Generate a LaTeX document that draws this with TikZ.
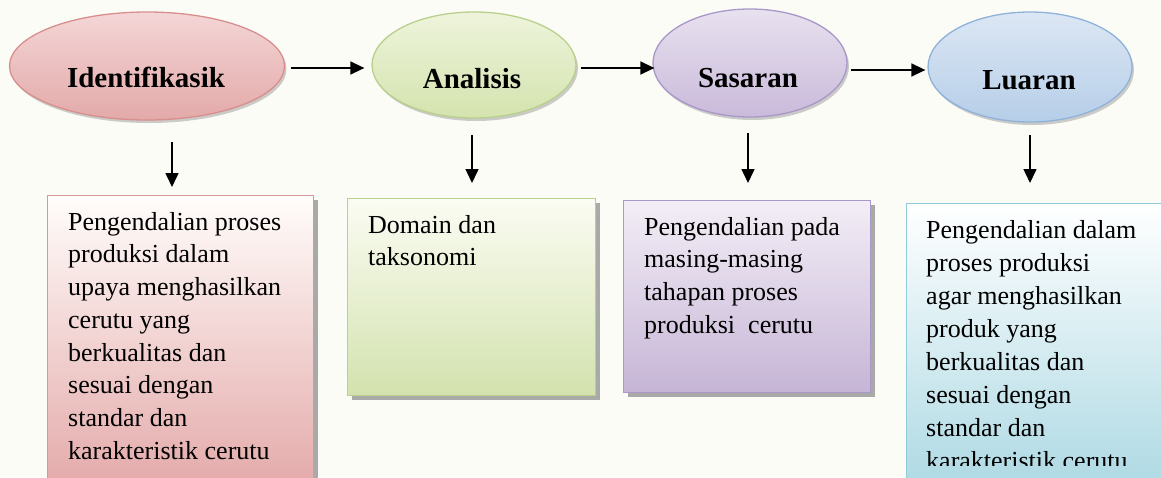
\documentclass[tikz,border=0pt]{standalone}
\usepackage{fontspec}
\setmainfont{Liberation Serif}
\usetikzlibrary{shapes.geometric,shadows,calc,arrows.meta}
\definecolor{bg}{HTML}{FCFCF7}
\definecolor{eAt}{HTML}{F4D6D6}\definecolor{eAb}{HTML}{E3A9A9}\definecolor{eAd}{HTML}{D98E8E}
\definecolor{eBt}{HTML}{EEF4DC}\definecolor{eBb}{HTML}{D4E3AE}\definecolor{eBd}{HTML}{B8D08C}
\definecolor{eCt}{HTML}{E8E1EF}\definecolor{eCb}{HTML}{C9BADA}\definecolor{eCd}{HTML}{A897C8}
\definecolor{eDt}{HTML}{DCE7F4}\definecolor{eDb}{HTML}{B6CEE8}\definecolor{eDd}{HTML}{8FB2DB}
\definecolor{bAt}{HTML}{FFFDFB}\definecolor{bAb}{HTML}{E3A7A7}\definecolor{bAd}{HTML}{DA9797}
\definecolor{bBt}{HTML}{FBFCF3}\definecolor{bBb}{HTML}{D3E2AE}\definecolor{bBd}{HTML}{B9D08E}
\definecolor{bCt}{HTML}{F3EEF6}\definecolor{bCb}{HTML}{C6B5D6}\definecolor{bCd}{HTML}{A998C9}
\definecolor{bDt}{HTML}{FFFFFF}\definecolor{bDb}{HTML}{A9D7E2}\definecolor{bDd}{HTML}{8FCBD9}
\begin{document}
\begin{tikzpicture}[x=1pt,y=-1pt,
  ellbase/.style={ellipse, draw, line width=1.3pt, inner sep=0pt,
    drop shadow={shadow xshift=2pt, shadow yshift=-3pt, fill=black!50, opacity=0.4}},
  ellA/.style={ellbase, draw=eAd, top color=eAt, bottom color=eAb},
  ellB/.style={ellbase, draw=eBd, top color=eBt, bottom color=eBb},
  ellC/.style={ellbase, draw=eCd, top color=eCt, bottom color=eCb},
  ellD/.style={ellbase, draw=eDd, top color=eDt, bottom color=eDb},
  boxbase/.style={rectangle, draw, line width=1.2pt, inner sep=0pt, anchor=north west,
    drop shadow={shadow xshift=4pt, shadow yshift=-4pt, fill=black!55, opacity=0.6}},
  boxA/.style={boxbase, draw=bAd, top color=bAt, bottom color=bAb},
  boxB/.style={boxbase, draw=bBd, top color=bBt, bottom color=bBb},
  boxC/.style={boxbase, draw=bCd, top color=bCt, bottom color=bCb},
  boxD/.style={boxbase, draw=bDd, top color=bDt, bottom color=bDb},
  lab/.style={inner sep=0pt, font=\fontsize{29}{33}\selectfont\bfseries},
  txt/.style={inner sep=0pt, anchor=north west, align=left, font=\fontsize{26}{32.7}\selectfont},
  arr/.style={line width=1.5pt, -{Triangle[length=14pt,width=13pt]}}
]
\fill[bg] (0,0) rectangle (1161,477);
\useasboundingbox (0,0) rectangle (1161,477);

% ellipses
\node[ellA, minimum width=275pt, minimum height=108pt] (e1) at (147,66) {};
\node[ellB, minimum width=204pt, minimum height=106pt] (e2) at (474,65) {};
\node[ellC, minimum width=194pt, minimum height=108pt] (e3) at (750,63) {};
\node[ellD, minimum width=204pt, minimum height=110pt] (e4) at (1030,67) {};
\node[lab] (l1) at (146,77) {Identifikasik};
\node[lab] (l2) at (472,79) {Analisis};
\node[lab] (l3) at (748,78) {Sasaran};
\node[lab] (l4) at (1029,80) {Luaran};

% boxes
\node[boxA, minimum width=266pt, minimum height=300pt] (b1) at (47,195) {};
\node[boxB, minimum width=248pt, minimum height=197pt] (b2) at (347,198) {};
\node[boxC, minimum width=247pt, minimum height=192pt] (b3) at (623,200) {};
\node[boxD, minimum width=270pt, minimum height=300pt] (b4) at (906,203) {};

\node[txt] (t1) at (68,212) {Pengendalian proses\\produksi dalam\\upaya menghasilkan\\cerutu yang\\berkualitas dan\\sesuai dengan\\standar dan\\karakteristik cerutu};
\node[txt] (t2) at (368,215) {Domain dan\\taksonomi};
\node[txt] (t3) at (644,217) {Pengendalian pada\\masing-masing\\tahapan proses\\produksi\ \ cerutu};
\begin{scope}
\clip (900,200) rectangle (1161,465);
\node[txt, font=\fontsize{26}{33.1}\selectfont] (t4) at (926,220) {Pengendalian dalam\\proses produksi\\agar menghasilkan\\produk yang\\berkualitas dan\\sesuai dengan\\standar dan\\karakteristik cerutu};
\end{scope}

% horizontal arrows
\draw[arr] ($(e1.east)+(6,2)$) -- ($(e2.west)+(-7,3)$);
\draw[arr] ($(e2.east)+(4,3)$) -- ($(e3.west)+(2,5)$);
\draw[arr] ($(e3.east)+(3,7)$) -- ($(e4.west)+(-2,3)$);

% vertical arrows
\coordinate (s1) at (172,142);
\coordinate (s2) at (472,135);
\coordinate (s3) at (748,133);
\coordinate (s4) at (1030,135);
\draw[arr, shorten >=8pt] (s1) -- (s1 |- b1.north);
\draw[arr, shorten >=15pt] (s2) -- (s2 |- b2.north);
\draw[arr, shorten >=17pt] (s3) -- (s3 |- b3.north);
\draw[arr, shorten >=20pt] (s4) -- (s4 |- b4.north);
\end{tikzpicture}
\end{document}
